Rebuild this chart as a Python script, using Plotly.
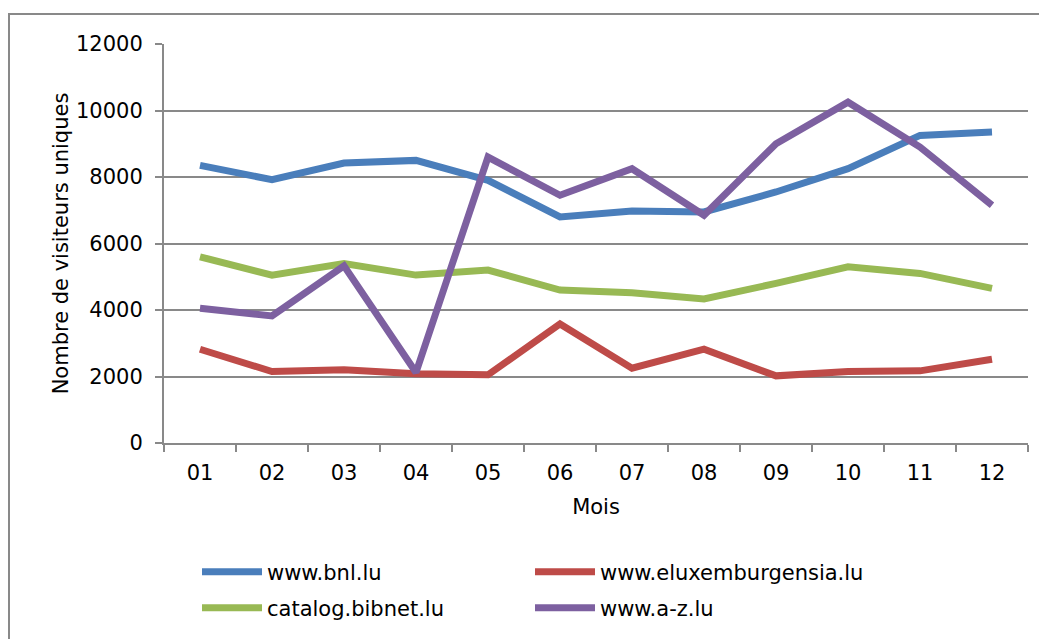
import plotly.graph_objects as go

months = ["01", "02", "03", "04", "05", "06", "07", "08", "09", "10", "11", "12"]
bnl = [8350, 7920, 8420, 8500, 7900, 6800, 6980, 6950, 7550, 8250, 9250, 9350]
eluxemburgensia = [2820, 2150, 2200, 2080, 2050, 3580, 2250, 2820, 2020, 2150, 2170, 2520]
bibnet = [5600, 5050, 5400, 5050, 5200, 4600, 4520, 4330, 4800, 5300, 5100, 4650]
az = [4050, 3820, 5330, 2120, 8600, 7450, 8250, 6850, 9000, 10250, 8900, 7150]

series = [
    ("www.bnl.lu", bnl, "#4A7EBB", "legend"),
    ("www.eluxemburgensia.lu", eluxemburgensia, "#BE4B48", "legend"),
    ("catalog.bibnet.lu", bibnet, "#98B954", "legend2"),
    ("www.a-z.lu", az, "#7D60A0", "legend2"),
]

FONT = "DejaVu Sans"
FS = 21
fig = go.Figure()
for name, vals, col, lg in series:
    fig.add_trace(go.Scatter(x=months, y=vals, name=name, mode="lines",
                             legend=lg, line=dict(color=col, width=7)))

# page body has an 8px margin: shift everything accordingly
OFF = 8
W, H = 1047 - OFF, 639 - OFF
L, T = 164 - OFF, 44 - OFF
pw, ph = 864, 400
R, B = W - L - pw, H - T - ph


def py(y_page):
    return (T + ph - (y_page - OFF)) / ph


def px(x_page):
    return (x_page - OFF - L) / pw


leg_common = dict(orientation="h", xanchor="left", yanchor="middle",
                  entrywidth=258, entrywidthmode="pixels", itemwidth=60,
                  font=dict(family=FONT, size=FS, color="black"),
                  bgcolor="rgba(0,0,0,0)")

fig.update_layout(
    width=W, height=H,
    margin=dict(l=L, r=R, t=T, b=B, pad=0),
    paper_bgcolor="white", plot_bgcolor="white",
    font=dict(family=FONT, size=FS, color="black"),
    showlegend=True,
    legend=dict(x=px(197), y=py(572), **leg_common),
    legend2=dict(x=px(197), y=py(608), **leg_common),
    xaxis=dict(type="category", range=[-0.5, 11.5], tickson="boundaries",
               ticks="outside", ticklen=7, tickwidth=2, tickcolor="#898989",
               showline=True, linecolor="#898989", linewidth=2,
               showgrid=False, zeroline=False, ticklabelstandoff=10,
               title=dict(text="Mois", standoff=15,
                          font=dict(family=FONT, size=FS)),
               tickfont=dict(family=FONT, size=FS)),
    yaxis=dict(range=[0, 12000], dtick=2000, tickformat="d",
               ticks="outside", ticklen=7,
               tickwidth=2, tickcolor="#898989",
               showline=True, linecolor="#898989", linewidth=2,
               showgrid=True, gridcolor="#898989", gridwidth=2,
               zeroline=False, ticklabelstandoff=8,
               title=dict(text="Nombre de visiteurs uniques", standoff=2,
                          font=dict(family=FONT, size=FS)),
               tickfont=dict(family=FONT, size=FS)),
    shapes=[dict(type="rect", xref="paper", yref="paper",
                 x0=px(9), x1=px(1047 + 30),
                 y0=py(639 + 30), y1=py(14),
                 line=dict(color="#898989", width=2), fillcolor="rgba(0,0,0,0)",
                 layer="below")],
)

fig.write_html("out.html")
